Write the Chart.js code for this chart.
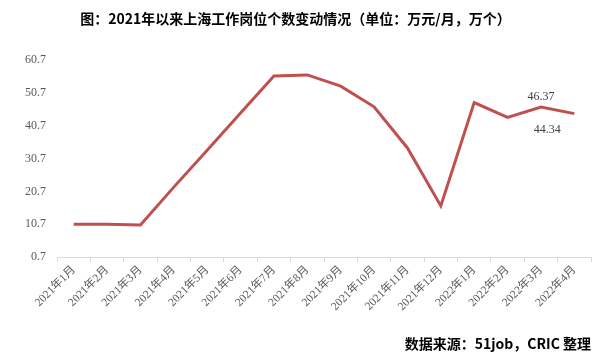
<!DOCTYPE html>
<html>
<head>
<meta charset="utf-8">
<script src="https://cdn.jsdelivr.net/npm/chart.js@4"></script>
<style>
  body { margin: 0; background: #fff; }
  #wrap { width: 607px; height: 364px; }
</style>
</head>
<body>
<div id="wrap"><canvas id="jobs-chart" width="607" height="364"></canvas></div>
<script>
const months = ["2021年1月", "2021年2月", "2021年3月", "2021年4月", "2021年5月", "2021年6月",
    "2021年7月", "2021年8月", "2021年9月", "2021年10月", "2021年11月", "2021年12月",
    "2022年1月", "2022年2月", "2022年3月", "2022年4月"];
const jobCounts = [10.7, 10.7, 10.5, 22.0, 33.2, 44.5, 55.8, 56.1, 52.7, 46.4, 33.9, 16.3, 47.7, 43.2, 46.37, 44.34];
const labelled = [14, 15];
const yTicks = [0.7, 10.7, 20.7, 30.7, 40.7, 50.7, 60.7];

const numFont = "'Liberation Serif', 'Noto Sans CJK SC', serif";
const cjkBold = "'Noto Sans CJK SC', sans-serif";

// value labels for the last two months (44.34 was moved left in the original)
const labelOffsets = { 14: [0, -10], 15: [-27, 16] };
const valueLabels = {
    id: "valueLabels",
    afterDatasetsDraw(chart) {
        const ctx = chart.ctx;
        const meta = chart.getDatasetMeta(0);
        ctx.save();
        ctx.font = "12px " + numFont;
        ctx.fillStyle = "#404040";
        ctx.textAlign = "center";
        ctx.textBaseline = "middle";
        labelled.forEach(i => {
            const pt = meta.data[i];
            const [dx, dy] = labelOffsets[i];
            ctx.fillText(jobCounts[i].toFixed(2), pt.x + dx, pt.y + dy);
        });
        ctx.restore();
    }
};

new Chart(document.getElementById("jobs-chart").getContext("2d"), {
    type: "line",
    data: {
        labels: months,
        datasets: [{
            data: jobCounts,
            borderColor: "#c0504d",
            borderWidth: 3,
            pointRadius: 0,
            tension: 0,
            fill: false
        }]
    },
    options: {
        responsive: false,
        animation: false,
        layout: { padding: { top: 10, right: 16, bottom: 12, left: 0 } },
        plugins: {
            legend: { display: false },
            tooltip: { enabled: false },
            title: {
                display: true,
                text: "图：2021年以来上海工作岗位个数变动情况（单位：万元/月，万个）",
                color: "#000",
                font: { family: cjkBold, size: 14, weight: "bold" },
                padding: { top: 0, bottom: 33 }
            },
            subtitle: {
                display: true,
                position: "bottom",
                align: "end",
                text: "数据来源：51job，CRIC 整理",
                color: "#000",
                font: { family: cjkBold, size: 14, weight: "bold" },
                padding: { top: 18, bottom: 0 }
            }
        },
        scales: {
            x: {
                offset: true,
                grid: {
                    offset: true,
                    drawOnChartArea: false,
                    drawTicks: true,
                    tickLength: 5,
                    color: "#d9d9d9"
                },
                border: { color: "#d9d9d9" },
                ticks: {
                    color: "#595959",
                    font: { family: numFont, size: 11.5 },
                    maxRotation: 45,
                    minRotation: 45,
                    padding: 1,
                    autoSkip: false
                },
                afterFit(scale) { scale.height = 60; }
            },
            y: {
                min: 0.7,
                max: 60.7,
                grid: { display: false },
                border: { display: false },
                afterBuildTicks(scale) { scale.ticks = yTicks.map(v => ({ value: v })); },
                ticks: {
                    color: "#595959",
                    font: { family: numFont, size: 12 },
                    padding: 3,
                    callback: v => v.toFixed(1)
                },
                afterFit(scale) { scale.width = 57; }
            }
        }
    },
    plugins: [valueLabels]
});
</script>
</body>
</html>
